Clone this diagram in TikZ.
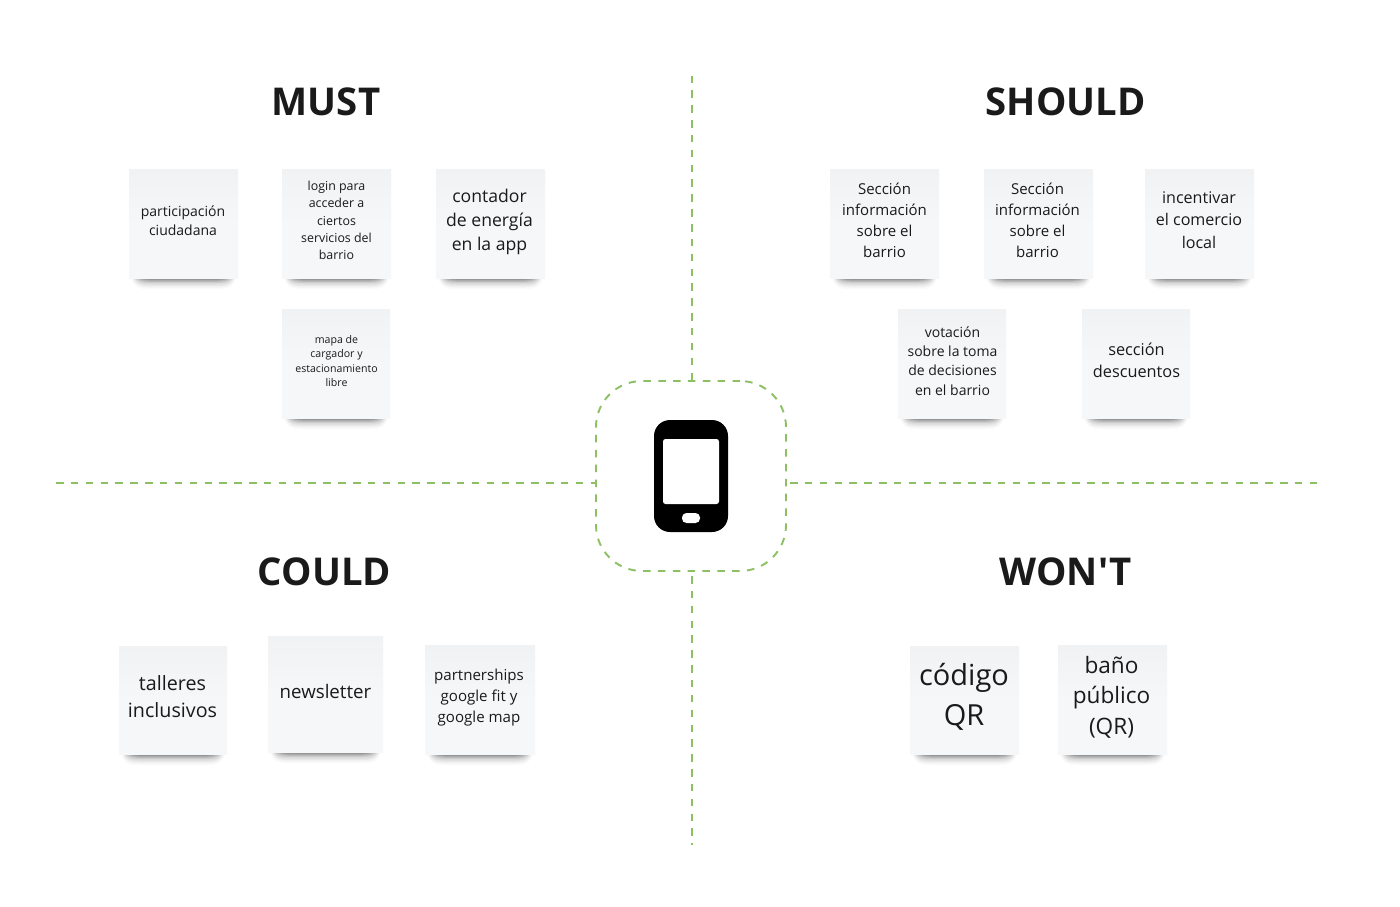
\documentclass[tikz,border=0pt]{standalone}
\usepackage{fontspec}
\setmainfont{Open Sans}
\newfontfamily\straightfont{Open Sans}
\usetikzlibrary{calc}
\definecolor{dashgreen}{HTML}{8CC063}
\definecolor{paper}{HTML}{F5F7F9}
\definecolor{papertop}{HTML}{F0F2F4}
\definecolor{ink}{HTML}{1A1A1A}
\tikzset{
  x=1pt,y=-1pt,
  guide/.style={draw=dashgreen,line width=1.9pt,dash pattern=on 7.5pt off 7.35pt},
  title/.style={font=\fontsize{38.3}{44}\selectfont\bfseries,text=ink,inner sep=0pt,anchor=center},
  label/.style={text=ink,inner sep=0pt,align=center,anchor=center},
  sheet/.style={inner sep=0pt,outer sep=0pt,anchor=north west,top color=papertop,bottom color=paper,middle color=paper},
}
% \sticky{name}{x0}{y0}{x1}{y1}{text cx}{text cy}{size}{text}
\newcommand{\sticky}[8]{%
  \foreach \o/\e/\i in {0.02/11/2,0.03/9.5/3,0.04/8/4,0.05/6.5/5,0.07/5/6,0.09/3.8/8,0.11/2.7/10,0.13/1.7/12,0.14/0.8/14}{
    \fill[black,opacity=\o] (#2+\i,#5-1) .. controls (#2+\i+3,#5-1+\e*0.8) and (#2+\i+7,#5-1+\e) .. (#2+\i+16,#5-1+\e) -- (#4-\i-16,#5-1+\e) .. controls (#4-\i-7,#5-1+\e) and (#4-\i-3,#5-1+\e*0.8) .. (#4-\i,#5-1) -- cycle;
  }
  \node[sheet,minimum width=#4pt-#2pt,minimum height=#5pt-#3pt-1pt] (#1) at (#2,#3) {};
  \stickytext{#1}{#6}{#7}{#8}%
}
\newcommand{\stickytext}[4]{\def\stn{#1}\def\stx{#2}\def\sty{#3}\def\stf{#4}\stickycont}
\newcommand{\stickycont}[1]{\node[label,font=\stf] (\stn-text) at (\stx,\sty) {#1};}
\newcommand{\fs}[2]{\fontsize{#1}{#2}\selectfont}
\begin{document}
\begin{tikzpicture}
\useasboundingbox (0,0) rectangle (1400,906);
\fill[white] (0,0) rectangle (1400,906);

% guides
\node[guide,rounded corners=46pt,minimum width=190pt,minimum height=190pt,inner sep=0pt,outer sep=0pt] (hub) at (691,476) {};
\coordinate (gtop) at (692,75.5);
\coordinate (gbot) at (692,845);
\coordinate (gbots) at (692,576);
\coordinate (gleft) at (56,483);
\coordinate (gright) at (1318,483);
\coordinate (grights) at (790,483);
\draw[guide] (gtop) -- (gtop |- hub.north);
\draw[guide] (gbots) -- (gbot);
\draw[guide] (gleft) -- (hub.west |- gleft);
\draw[guide] (grights) -- (gright);

% phone
\fill[black,rounded corners=16pt] (654,420) rectangle (728,532);
\fill[white,rounded corners=2.5pt] (663,439) rectangle (719,504);
\fill[white,rounded corners=4.5pt] (682,513) rectangle (700,523);

% titles
\node[title] (must) at (326,102) {MUST};
\node[title] (should) at (1065.5,102) {SHOULD};
\node[title] (could) at (324.5,572) {COULD};
\node[title,font=\fontsize{38.3}{44}\selectfont\straightfont\bfseries] (wont) at (1065.5,572) {WON'T};

% MUST
\sticky{a}{129}{169}{238}{279}{183}{221}{\fs{14}{19}}{participación\\ciudadana}
\sticky{b}{282}{169}{391}{279}{336.5}{220.5}{\fs{12.4}{17.4}}{login para\\acceder a\\ciertos\\servicios del\\barrio}
\sticky{c}{436}{169}{545}{279}{489.5}{222}{\fs{17.6}{23.8}}{contador\\de energía\\en la app}
\sticky{d}{282}{309}{390}{419}{336.5}{361}{\fs{10.6}{14.4}}{mapa de\\cargador y\\estacionamiento\\libre}
% SHOULD
\sticky{e}{830}{169}{939}{279}{884.5}{220}{\fs{15}{21}}{Sección\\información\\sobre el\\barrio}
\sticky{f}{984}{169}{1093}{279}{1037.5}{220}{\fs{15}{21}}{Sección\\información\\sobre el\\barrio}
\sticky{g}{1145}{169}{1254}{279}{1199}{220}{\fs{16.1}{22.5}}{incentivar\\el comercio\\local}
\sticky{h}{898}{309}{1006}{419}{952.5}{361}{\fs{14}{19.2}}{votación\\sobre la toma\\de decisiones\\en el barrio}
\sticky{i}{1082}{309}{1190}{419}{1136.5}{360.5}{\fs{16.3}{22.5}}{sección\\descuentos}
% COULD
\sticky{j}{119}{646}{227}{755}{172.5}{696.5}{\fs{19.7}{27}}{talleres\\inclusivos}
\sticky{k}{268}{636}{383}{753}{325.5}{691.5}{\fs{18.7}{25}}{newsletter}
\sticky{l}{425}{645}{535}{755}{479}{697.5}{\fs{15.1}{21}}{partnerships\\google fit y\\google map}
% WON'T
\sticky{m}{910}{646}{1019}{755}{964}{697}{\fs{29}{40}}{código\\QR}
\sticky{n}{1058}{645}{1167}{755}{1111.5}{697}{\fs{22.6}{30.5}}{baño\\público\\(QR)}
\end{tikzpicture}
\end{document}
